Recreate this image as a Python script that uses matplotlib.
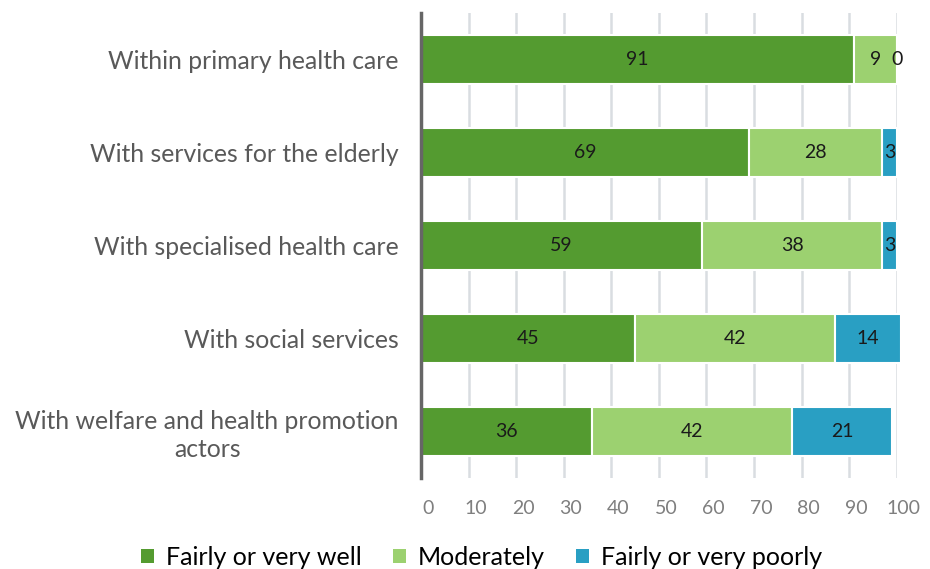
import numpy as np
import matplotlib
matplotlib.use("Agg")
import matplotlib.pyplot as plt
import matplotlib.transforms as mtransforms
from matplotlib.patches import Patch

categories = [
    "Within primary health care",
    "With services for the elderly",
    "With specialised health care",
    "With social services",
    "With welfare and health promotion\nactors",
]
series_names = ["Fairly or very well", "Moderately", "Fairly or very poorly"]
well = [91, 69, 59, 45, 36]
moderately = [9, 28, 38, 42, 42]
poorly = [0, 3, 3, 14, 21]
xticks = [0, 10, 20, 30, 40, 50, 60, 70, 80, 90, 100]

COLORS = ["#549B30", "#9CD170", "#299FC3"]
FONT = ["Lato", "DejaVu Sans"]

fig = plt.figure(figsize=(9.3, 5.69), dpi=100)
ax = fig.add_axes([0.4527, 0.160, 0.5115, 0.817])

y = np.arange(len(categories))
left = np.zeros(len(categories))
for vals, color in zip([well, moderately, poorly], COLORS):
    vals = np.array(vals, dtype=float)
    ax.barh(y, vals, left=left, height=0.53, color=color,
            edgecolor="white", linewidth=1.5, zorder=3, clip_on=False)
    for yi, l, v in zip(y, left, vals):
        ax.text(l + v / 2, yi, f"{int(v)}", ha="center", va="center",
                fontsize=14, color="#1a1a1a", family=FONT, zorder=4)
    left += vals

ax.set_xlim(0, 100)
ax.set_ylim(len(categories) - 0.5, -0.5)
ax.set_yticks(y)
ax.set_yticklabels(categories, fontsize=17.8, color="#595959", family=FONT,
                   linespacing=1.25, multialignment="center")
ax.set_xticks(xticks)
ax.set_xticklabels([str(t) for t in xticks], fontsize=14, color="#7f7f7f", family=FONT)
ax.tick_params(axis="both", length=0)
ax.tick_params(axis="y", pad=16)
ax.tick_params(axis="x", pad=16)

# x tick labels sit a little right of their gridlines
shift = mtransforms.ScaledTranslation(7 / 100, 0, fig.dpi_scale_trans)
for lbl in ax.get_xticklabels():
    lbl.set_transform(lbl.get_transform() + shift)

# vertical gridlines sit behind the bars
for t in xticks[1:]:
    ax.axvline(t, color="#d9dde1", linewidth=1.8, zorder=1)

for side in ["top", "right", "bottom"]:
    ax.spines[side].set_visible(False)
ax.spines["left"].set_color("#666666")
ax.spines["left"].set_linewidth(2.5)
ax.spines["left"].set_zorder(5)

handles = [Patch(facecolor=c, edgecolor="none") for c in COLORS]
fig.legend(handles, series_names, loc="center", bbox_to_anchor=(0.518, 0.02),
           ncol=3, frameon=False, handlelength=0.5, handleheight=0.5,
           handletextpad=0.5, columnspacing=1.25, prop={"family": FONT, "size": 18})

fig.savefig("out.png", dpi=100)
